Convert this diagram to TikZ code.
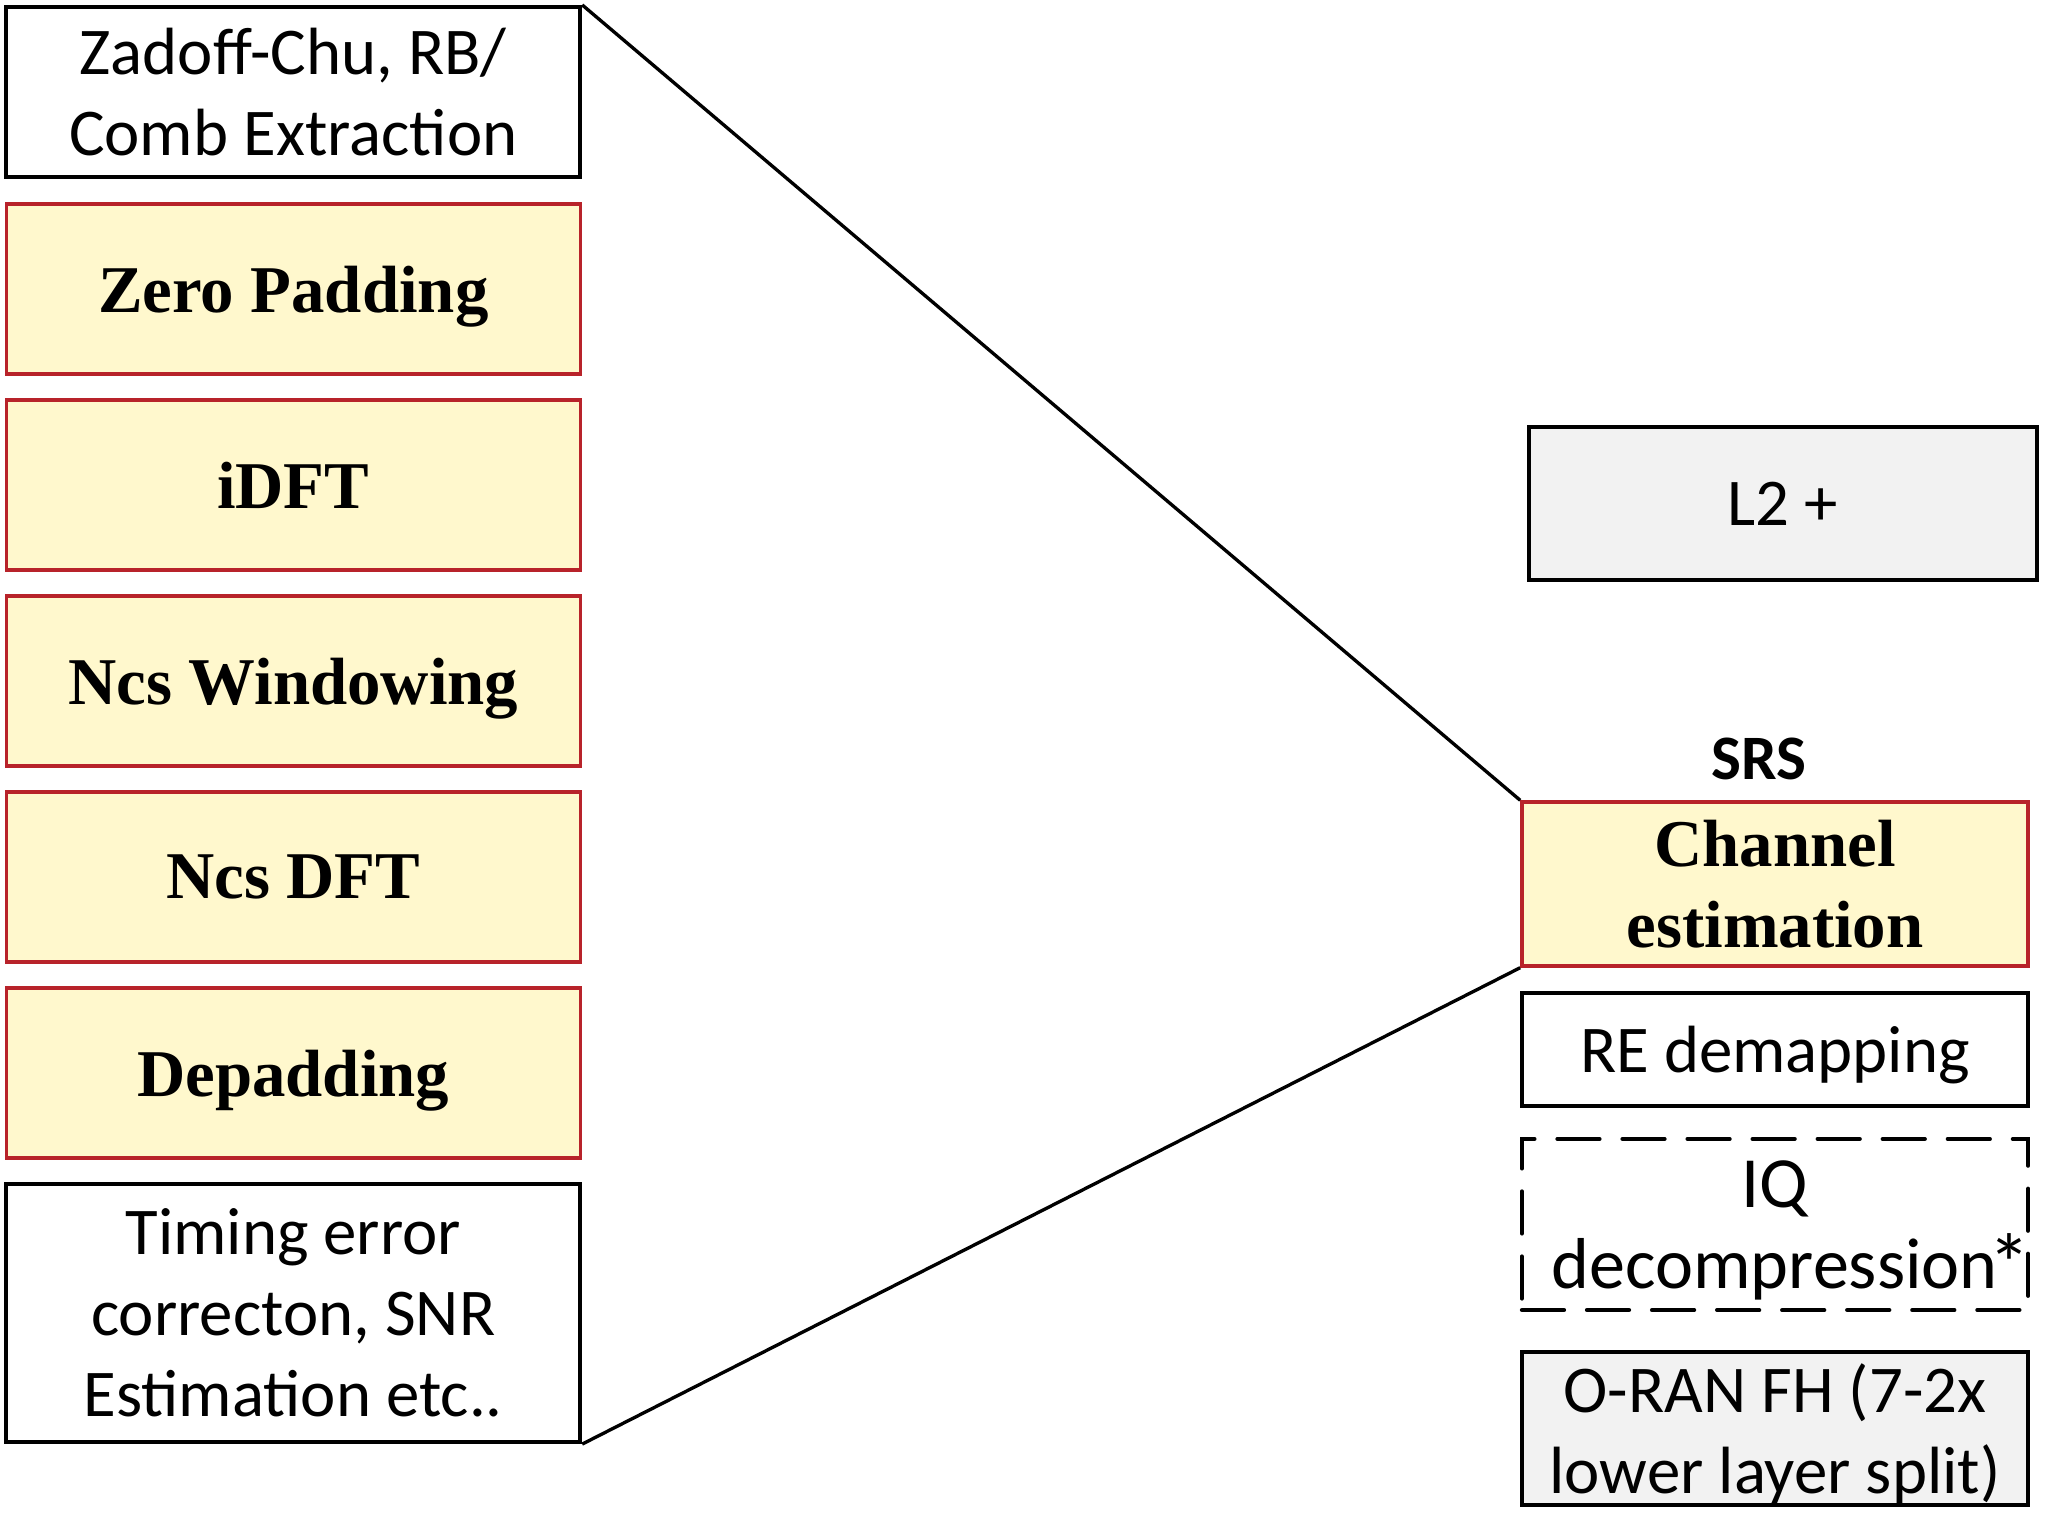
\documentclass[tikz,border=0pt]{standalone}
\usepackage{fontspec}
\setmainfont{Liberation Serif}
\newfontfamily\carl{Carlito}
\definecolor{redc}{HTML}{B8232A}
\definecolor{yellowc}{HTML}{FFF8CD}
\definecolor{grayc}{HTML}{F2F2F2}
\begin{document}
\begin{tikzpicture}[x=0.01cm,y=-0.01cm,
  plain/.style={draw, line width=1.15pt, inner sep=0pt, align=center,
    font=\carl\fontsize{19}{23}\selectfont},
  ybox/.style={draw=redc, fill=yellowc, line width=0.95pt, inner sep=0pt, align=center,
    font=\bfseries\fontsize{19}{23}\selectfont},
  nodepth/.style={text depth=0pt},
  lw/.style={minimum width=5.735cm},
  rw/.style={minimum width=5.06cm},
  conn/.style={line width=0.95pt}]
\useasboundingbox (0,0) rectangle (2048,1513);
% left column
\node[plain,lw,minimum height=1.70cm] (zc) at (293.25,92) {Zadoff-Chu, RB/\\Comb Extraction};
\node[ybox,lw,nodepth,minimum height=1.70cm] (zp) at (293.25,289) {Zero Padding};
\node[ybox,lw,nodepth,minimum height=1.70cm] (idft) at (293.25,485) {iDFT};
\node[ybox,lw,nodepth,minimum height=1.70cm] (ncsw) at (293.25,681) {Ncs Windowing};
\node[ybox,lw,nodepth,minimum height=1.70cm] (ncsd) at (293.25,877) {Ncs DFT};
\node[ybox,lw,nodepth,minimum height=1.70cm] (dep) at (293.25,1073) {Depadding};
\node[plain,lw,minimum height=2.58cm] (te) at (293.25,1313) {Timing error\\correcton, SNR\\Estimation etc..};
% right column
\node[plain,fill=grayc,nodepth,minimum width=5.08cm,minimum height=1.53cm] (l2) at (1783,503.5) {L2 +};
\node[font=\carl\bfseries\fontsize{18}{22}\selectfont, inner sep=0pt] (srs) at (1759,759) {SRS};
\node[ybox,rw,minimum height=1.64cm] (ce) at (1775,884) {Channel\\estimation};
\node[plain,rw,nodepth,minimum height=1.13cm] (re) at (1775,1049.5) {RE demapping};
\node[plain,rw,nodepth,minimum height=1.71cm,dash pattern=on 12pt off 6.5pt,line cap=round,
  font=\carl\fontsize{20.5}{23}\selectfont] (iq) at (1775,1224.5) {IQ\\\makebox[4.8cm]{\ \ decompression{\fontsize{24}{23}\selectfont\kern-2.5pt\raisebox{-1.5pt}{*}}}};
\node[plain,fill=grayc,rw,nodepth,minimum height=1.53cm] (oran) at (1775,1428.5) {O-RAN FH (7-2x\\lower layer split)};
% connectors
\draw[conn] (zc.north east) -- (ce.north west);
\draw[conn] (te.south east) -- (ce.south west);
\end{tikzpicture}
\end{document}
